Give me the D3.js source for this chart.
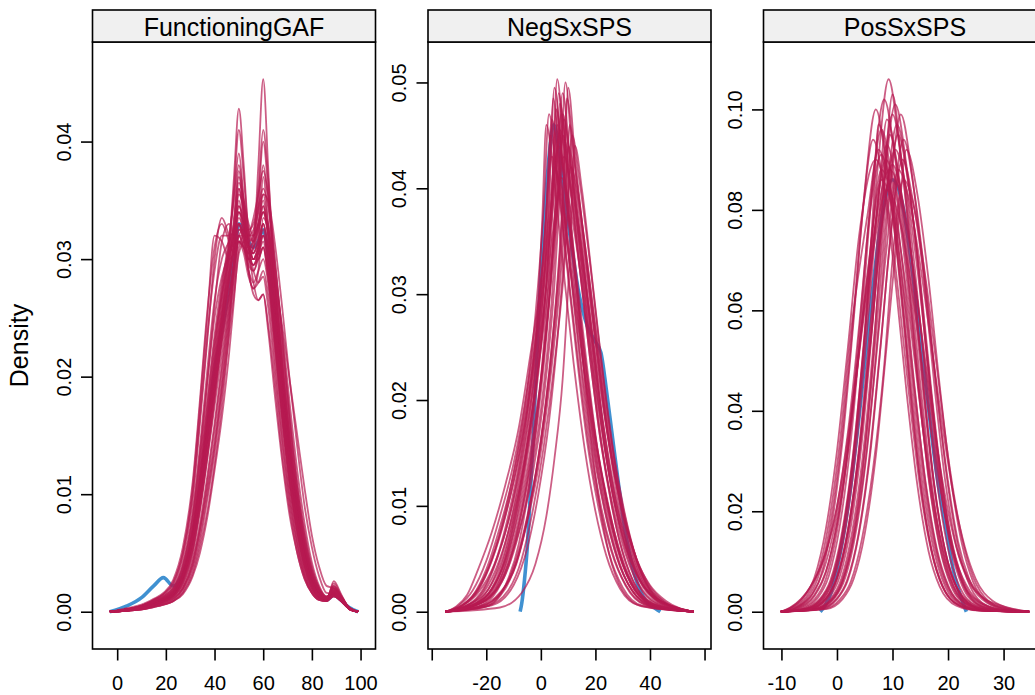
<!DOCTYPE html>
<html>
<head>
<meta charset="utf-8">
<script src="https://d3js.org/d3.v7.min.js"></script>
<style>
body { margin: 0; background: #fff; }
svg { display: block; }
text { font-family: "Liberation Sans", Arial, Helvetica, sans-serif; fill: #000; }
</style>
</head>
<body>
<svg width="1035" height="695"></svg>
<script>
// Densities are given in thousandths (33.5 means 0.0335)

// FunctioningGAF: all curves share one x grid
var gafGrid = [-3, 4, 10, 15, 19, 23, 27, 31, 34, 37, 40, 43, 46, 48, 50, 52, 54, 56, 58, 60, 62, 65, 68, 71, 74, 77, 80, 83, 86, 89, 92, 95, 99];
var gafObserved = [0, .5, 1.2, 2.2, 2.9, 2.2, 3.2, 6.5, 10.5, 15.5, 20.5, 24, 27.5, 30, 33, 32.5, 31.5, 31, 31.5, 32.5, 30.5, 24.5, 18.5, 13, 8.5, 5, 2.8, 1.5, 1.0, 1.4, 1.0, .4, 0];
var gafImputed = [
    [0, .2, .4, .8, 1.1, 1.6, 3.0, 6.2, 10, 14.5, 19, 23, 27, 30, 33, 31.5, 30, 31, 38, 45.3, 38, 26, 18, 12, 7.5, 4.2, 2.3, 1.3, 1.1, 1.8, 1.2, .4, 0],
    [0, .2, .5, .9, 1.2, 1.8, 3.4, 7, 11, 15.5, 20, 25, 31, 37, 42.8, 38, 32, 30, 31, 33, 31, 25, 18.5, 12.5, 8, 4.5, 2.5, 1.4, 1.2, 2.2, 1.3, .4, 0],
    [0, .2, .5, 1, 1.4, 2.2, 4.5, 9.5, 16, 23, 30, 33.5, 32, 31, 32, 31, 29, 28, 29, 30, 28, 22, 15.5, 10, 6, 3.3, 1.8, 1.1, 1.0, 1.6, 1.0, .3, 0],
    [0, .2, .4, .8, 1.2, 1.9, 3.8, 8, 13, 19.5, 26, 31.5, 33, 32, 33, 32, 30, 29.5, 30, 31, 29, 23, 16.5, 11, 6.8, 3.8, 2.0, 1.2, 1.0, 2.0, 1.2, .4, 0],
    [0, .1, .3, .6, .9, 1.4, 2.8, 6, 9.5, 14, 19, 24, 29, 32.5, 35.5, 34.5, 32.5, 31.5, 32.5, 34, 32, 26, 19.5, 13.5, 8.5, 5, 2.7, 1.5, 1.1, 1.6, 1.0, .3, 0],
    [0, .2, .4, .7, 1.0, 1.5, 3.0, 6.5, 11, 16, 21, 25.5, 30, 33, 36.5, 35, 33, 32, 33, 35.5, 33, 27, 20, 14, 9.5, 5.8, 3.2, 1.8, 1.2, 1.4, .9, .3, 0],
    [0, .1, .3, .5, .8, 1.2, 2.2, 4.5, 7.5, 11.5, 16, 21, 26, 29.5, 32.5, 32.5, 32, 32, 33, 34, 33, 29, 23.5, 17.5, 12, 7.5, 4.2, 2.2, 1.3, 1.5, 1.0, .3, 0],
    [0, .2, .4, .7, 1.0, 1.6, 3.3, 7, 12, 17.5, 23, 27, 30, 32, 34.5, 33, 31, 30, 31, 32.5, 30, 24, 17.5, 12, 7.5, 4.3, 2.4, 1.4, 1.0, 1.3, .9, .3, 0],
    [0, .1, .3, .6, .9, 1.4, 2.7, 5.8, 9.5, 14.5, 19.5, 24, 28, 31, 34, 33, 31, 31.5, 35, 40, 36, 27, 19.5, 13, 8.5, 4.8, 2.6, 1.4, 1.1, 1.9, 1.2, .4, 0],
    [0, .2, .4, .8, 1.1, 1.7, 3.2, 6.8, 11.5, 16.5, 21.5, 26.5, 31.5, 35.5, 39, 35, 31, 29.5, 30.5, 32, 30, 24.5, 18, 12.5, 8, 4.6, 2.5, 1.4, 1.1, 2.4, 1.4, .4, 0],
    [0, .2, .5, .9, 1.3, 2.0, 4.0, 8.5, 14, 20.5, 26.5, 30, 31.5, 32.5, 34, 33, 31, 30, 30.5, 31.5, 29, 23, 16.5, 11, 6.8, 3.8, 2.1, 1.2, 1.0, 1.7, 1.1, .3, 0],
    [0, .1, .2, .5, .8, 1.1, 2.0, 4.0, 7, 11, 15.5, 20.5, 25.5, 29, 32, 32.5, 32.5, 33, 34.5, 36, 34.5, 29.5, 23, 16.5, 11, 6.8, 3.8, 2.0, 1.2, 1.3, .9, .3, 0],
    [0, .2, .4, .7, 1.0, 1.5, 3.1, 6.6, 11, 16.5, 22, 27, 30.5, 32, 33, 31.5, 30.5, 31, 33, 35, 32, 25.5, 19, 13, 8.5, 5, 2.8, 1.5, 1.2, 2.0, 1.3, .4, 0],
    [0, .1, .3, .6, .9, 1.4, 2.9, 6.2, 10.5, 15.5, 20.5, 25, 29.5, 33.5, 37, 34, 29, 27.5, 29, 33.5, 32.5, 27.5, 20.5, 14, 9, 5.3, 2.9, 1.6, 1.2, 1.8, 1.1, .3, 0],
    [0, .2, .4, .7, 1.0, 1.6, 3.1, 6.3, 10, 15, 20, 25, 29, 31, 33, 32, 31, 30.5, 31.5, 33, 31, 26, 20, 14.5, 9.5, 5.5, 3.0, 1.7, 1.2, 1.5, 1.0, .3, 0],
    [0, .2, .5, 1.0, 1.5, 2.4, 5, 10.5, 17.5, 25, 32, 31.5, 30, 30.5, 32, 31, 29.5, 29, 30, 31, 28.5, 22.5, 16, 10.5, 6.5, 3.6, 2, 1.2, 1, 1.5, 1, .3, 0],
    [0, .1, .2, .4, .6, .9, 1.6, 3.2, 5.5, 8.5, 12.5, 17.5, 24, 30, 36, 34, 31, 29, 28, 28.5, 26, 20, 14, 9, 5.5, 3, 1.6, 1, .9, 1.4, .9, .3, 0],
    [0, .1, .2, .4, .6, .9, 1.5, 3, 5, 8, 12, 16.5, 22, 26.5, 31, 32, 32, 32.5, 34, 35.5, 35, 31, 25.5, 19.5, 14, 9, 5.5, 3, 1.6, 1.5, 1, .3, 0],
    [0, .2, .4, .8, 1.1, 1.7, 3.3, 7, 11.5, 17, 22.5, 27.5, 32, 35, 38, 35, 31, 28, 26.5, 27, 24, 18, 12.5, 8, 5, 2.8, 1.6, 1, .9, 1.3, .9, .3, 0],
    [0, .2, .4, .7, 1.0, 1.5, 2.8, 5.5, 9, 13.5, 18.5, 23, 27, 29.5, 31.5, 31, 30, 30, 31, 32, 31, 28, 24, 19.5, 15, 10.5, 6.5, 3.8, 2.2, 2.0, 1.3, .4, 0],
    [0, .3, .6, 1.1, 1.6, 2.7, 5.5, 11, 18, 25.5, 31, 33, 31.5, 30.5, 31.5, 30.5, 28.5, 27.5, 28, 29, 27, 21, 14.5, 9.5, 5.8, 3.2, 1.8, 1.1, .9, 1.5, 1, .3, 0],
    [0, .1, .3, .5, .7, 1.1, 2, 4.2, 7, 10.5, 14.5, 19.5, 25, 28.5, 31.5, 31, 30.5, 32, 36, 41, 37, 28, 20, 13.5, 8.5, 5, 2.7, 1.5, 1.1, 1.7, 1.1, .3, 0],
    [0, .2, .4, .7, 1.0, 1.5, 3, 6.3, 10.5, 15.5, 21, 26, 31, 36, 41, 37, 32, 30, 30, 31, 28.5, 22.5, 16.5, 11, 7, 4, 2.2, 1.3, 1.1, 2.2, 1.3, .4, 0],
    [0, .1, .3, .6, .9, 1.3, 2.4, 5, 8.5, 13, 18, 23.5, 28.5, 31.5, 34.5, 33.5, 32, 31.5, 33, 34.5, 32.5, 27, 21, 15, 10, 6, 3.3, 1.8, 1.2, 1.6, 1, .3, 0],
    [0, .2, .5, 1, 1.5, 2.5, 5, 10, 16.5, 23.5, 29, 32, 32, 32.5, 34, 32, 29, 27, 26.5, 27, 24.5, 19, 13, 8.5, 5, 2.8, 1.6, 1, .9, 2.6, 1.5, .4, 0],
    [0, .1, .2, .4, .6, .9, 1.7, 3.5, 6, 9.5, 13.5, 18.5, 23.5, 27, 30.5, 31.5, 32, 33.5, 35.5, 37.5, 35.5, 29.5, 22.5, 16, 10.5, 6.5, 3.6, 2, 1.3, 1.5, 1, .3, 0],
    [0, .2, .4, .7, 1.0, 1.5, 3, 6, 10, 15, 20, 24.5, 28.5, 31, 35, 32.5, 30, 29, 31, 37, 33, 25, 18, 12, 7.8, 4.5, 2.5, 1.4, 1.1, 1.9, 1.2, .4, 0],
    [0, .1, .3, .6, .9, 1.3, 2.6, 5.3, 9, 13.5, 18.5, 23.5, 28, 31.5, 36, 33.5, 31, 30.5, 32, 34.5, 32, 26.5, 20.5, 14.5, 9.5, 5.5, 3, 1.7, 1.2, 1.6, 1, .3, 0],
    [0, .2, .5, .9, 1.3, 2, 3.9, 8, 13.5, 19.5, 25, 28.5, 30.5, 31.5, 33.5, 32.5, 31, 30.5, 31.5, 33, 30.5, 24.5, 18, 12.5, 8, 4.6, 2.5, 1.4, 1.1, 1.7, 1.1, .3, 0],
    [0, .1, .2, .5, .7, 1, 1.9, 3.8, 6.5, 10, 14, 19, 24.5, 28, 32, 32, 31, 31, 32.5, 34, 32.5, 28, 22, 16, 10.5, 6.3, 3.5, 1.9, 1.2, 1.4, .9, .3, 0],
    [0, .2, .4, .8, 1.1, 1.7, 3.5, 7.5, 12.5, 18, 23.5, 28, 31, 33, 37.5, 34, 30.5, 29.5, 30.5, 32, 29.5, 23.5, 17, 11.5, 7.2, 4.1, 2.3, 1.3, 1.1, 2.1, 1.3, .4, 0],
    [0, .1, .3, .6, .9, 1.3, 2.5, 5.2, 8.8, 13, 17.5, 22, 26.5, 29.5, 32.5, 32, 31.5, 32, 34, 38, 35, 28, 21, 14.5, 9.5, 5.6, 3.1, 1.7, 1.2, 1.8, 1.1, .3, 0]
];

// NegSxSPS: [value, density] points per curve
var negObserved = [[-7.6, 0], [-7, .8], [-6, 3], [-5, 6], [-4, 10.5], [-3, 15.5], [-2, 21], [-1, 27], [0, 32], [1.5, 38], [3, 43], [4.7, 46], [6.5, 44], [8.5, 39.5], [11, 35], [14, 30], [17, 27], [20, 25.5], [22, 24.5], [24, 21], [26, 17], [28.5, 12], [31, 7.5], [34, 3.8], [38, 1.2], [42, .3], [43.8, 0]];
var negImputed = [
    [[-35, 0], [-28, .4], [-22, 1.2], [-17, 3.3], [-12, 7.5], [-8, 12.5], [-4, 19], [0, 29.5], [2, 37.5], [4, 46.5], [7, 41], [11, 32], [15, 23], [19, 15.5], [23, 10], [28, 5], [34, 1.8], [41, .5], [56, 0]],
    [[-35, 0], [-24, .8], [-16, 3], [-11, 7], [-7, 12], [-3, 19], [1, 30], [3, 38.5], [5, 49.5], [8, 42], [12, 33.5], [16, 24.5], [20, 16.5], [24, 11], [29, 5.5], [35, 2], [42, .6], [56, 0]],
    [[-35, 0], [-22, .8], [-15, 3], [-10, 7.5], [-6, 13], [-2, 20], [2, 31], [4, 39], [6, 50.3], [9, 41], [13, 31], [17, 21.5], [21, 14], [25, 9], [30, 4.5], [36, 1.5], [43, .4], [56, 0]],
    [[-35, 0], [-27, .4], [-20, 1.2], [-14, 3.2], [-9, 7.2], [-5, 12], [-1, 18.5], [3, 29], [5, 37], [7, 48], [10, 41.5], [14, 33], [18, 24], [22, 16], [26, 10.5], [31, 5.5], [37, 2], [44, .6], [56, 0]],
    [[-35, 0], [-26, .5], [-19, 1.3], [-13, 3.5], [-8, 7.5], [-4, 12.5], [0, 19], [4, 29.5], [6, 37.5], [8, 47], [11, 42], [15, 34.5], [19, 26], [23, 17], [27, 11], [32, 6], [38, 2.3], [46, .7], [56, 0]],
    [[-35, 0], [-24, .6], [-17, 1.8], [-12, 4.5], [-7, 8.5], [-3, 13], [1, 20], [5, 31], [7, 39.5], [9, 50], [12, 41], [16, 32], [20, 22.5], [24, 14.5], [28, 9], [33, 4.3], [39, 1.5], [47, .4], [56, 0]],
    [[-35, 0], [-23, .5], [-15, 1.8], [-9, 4.5], [-5, 8.5], [-1, 13.5], [3, 21], [7, 31], [9, 38], [10.5, 46], [13, 41], [17, 33], [21, 24.5], [25, 16.5], [29, 10.5], [34, 5.5], [40, 2], [48, .5], [56, 0]],
    [[-35, 0], [-20, .5], [-12, 2], [-7, 5], [-3, 9.5], [1, 15.5], [5, 23.5], [9, 34], [11.5, 45], [14, 41], [18, 33], [22, 24], [26, 16], [30, 10], [35, 5], [41, 1.8], [49, .4], [56, 0]],
    [[-35, 0], [-30, .4], [-25, 1.5], [-20, 4], [-15, 8], [-10, 13], [-6, 18.5], [-2, 25.5], [2, 34], [4.5, 40], [6.5, 44], [9.5, 39.5], [13, 32], [17, 23], [21, 15], [25, 9.5], [30, 4.5], [36, 1.5], [44, .4], [56, 0]],
    [[-35, 0], [-28, .5], [-21, 1.8], [-15, 5], [-10, 9.5], [-6, 14.5], [-2, 21], [2, 29], [5.5, 37], [8.5, 43], [11.5, 39.5], [15, 33], [19, 25], [23, 17.5], [27, 11.5], [31, 7], [36, 3.2], [42, 1.2], [49, .4], [56, 0]],
    [[-35, 0], [-26, .7], [-19, 2.2], [-14, 5], [-10, 9], [-6, 14], [-2, 21], [2, 31], [4, 39], [5.5, 47.5], [8.5, 41], [12, 32], [16, 22.5], [20, 14.5], [24, 9], [29, 4.3], [35, 1.5], [42, .4], [56, 0]],
    [[-35, 0], [-22, .5], [-14, 2], [-9, 5], [-5, 9], [-1, 14.5], [3, 22.5], [6, 31], [8, 39], [9.5, 48.5], [12.5, 42], [16.5, 33.5], [20.5, 25], [24.5, 17], [28.5, 11], [33, 6], [39, 2.2], [47, .6], [56, 0]],
    [[-35, 0], [-29, .5], [-23, 1.8], [-17, 4.5], [-12, 8.5], [-7, 14.5], [-3, 21], [1, 28.5], [4.5, 36], [7.5, 41], [10.5, 38.5], [14.5, 32], [18.5, 24], [22.5, 17], [26.5, 11], [31, 6.3], [37, 2.7], [44, 1], [51, .3], [56, 0]],
    [[-35, 0], [-27, .6], [-21, 2], [-16, 5], [-11, 9.5], [-7, 15], [-3, 22.5], [0, 31], [2, 38], [3.5, 45], [6.5, 40], [10, 32], [14, 23], [18, 15], [22, 9.5], [27, 4.8], [33, 1.8], [40, .5], [56, 0]],
    [[-35, 0], [-31, .5], [-27, 1.6], [-23, 4], [-18, 7.5], [-13, 12], [-8, 17.5], [-4, 24], [0, 31], [3, 37.5], [5, 42], [8, 38.5], [12, 31], [16, 22.5], [20, 15], [24, 9.5], [29, 4.5], [35, 1.5], [43, .4], [56, 0]],
    [[-35, 0], [-15, .4], [-7, 1.8], [-2, 4.5], [2, 9], [5, 14.5], [8, 22], [10.5, 33], [12.5, 44], [15, 40], [19, 31], [23, 22], [27, 14.5], [31, 9], [35, 5], [40, 2], [47, .6], [56, 0]],
    [[-35, 0], [-25, .5], [-18, 1.8], [-12, 5], [-7, 10], [-3, 16], [1, 24], [4, 32.5], [6, 39], [8, 45], [11, 41], [15, 33.5], [19, 26], [23, 19], [27, 13], [31, 8.5], [35, 5], [40, 2.5], [46, 1], [56, 0]],
    [[-35, 0], [-20, .5], [-13, 2.5], [-8, 6.5], [-4, 12.5], [0, 22], [3, 32], [5, 41], [6.5, 49], [9, 43], [12, 34], [15, 25], [18, 17], [21, 11], [25, 5.5], [30, 2], [37, .5], [56, 0]],
    [[-35, 0], [-29, .6], [-23, 2.2], [-18, 5], [-13, 9.5], [-9, 14.5], [-5, 21], [-2, 28], [1, 38], [3, 47], [6, 41], [9, 34], [13, 24.5], [17, 16], [21, 10], [25, 5.5], [30, 2.3], [37, .6], [56, 0]],
    [[-35, 0], [-22, .5], [-14, 2], [-8, 5.5], [-4, 10], [0, 16], [4, 25], [7, 34], [8.5, 41], [10, 49.5], [12.5, 43], [16, 34.5], [20, 25.5], [24, 17.5], [28, 11], [32, 6.5], [37, 3], [44, .8], [56, 0]],
    [[-35, 0], [-30, .4], [-24, 1.7], [-19, 4.2], [-14, 8.2], [-9, 13.5], [-5, 19.5], [-1, 27], [3, 36], [5, 41.5], [7, 45.5], [10, 41.5], [14, 34], [18, 26], [22, 18], [26, 11.5], [30, 7], [35, 3.5], [41, 1.4], [48, .5], [56, 0]],
    [[-35, 0], [-25, .6], [-18, 2.2], [-13, 5.5], [-9, 10], [-5, 16], [-2, 22.5], [1, 31], [3, 40], [4.5, 48.5], [7, 42], [10.5, 33], [14, 24.5], [18, 16], [22, 10], [26, 5.8], [31, 2.5], [38, .7], [56, 0]],
    [[-35, 0], [-18, .6], [-10, 2.5], [-5, 6], [-1, 11], [3, 18], [6, 25.5], [9, 35], [11, 42], [14, 38.5], [18, 31], [22, 23], [26, 15.5], [30, 9.5], [34, 5.8], [39, 2.8], [45, 1], [51, .3], [56, 0]],
    [[-35, 0], [-23, .5], [-16, 2], [-11, 5], [-7, 9.5], [-3, 15.5], [1, 24], [4, 33], [6, 41], [8, 49], [10.5, 43.5], [14, 35], [17.5, 26.5], [21, 18.5], [25, 11.5], [29, 6.5], [34, 2.8], [41, .8], [56, 0]],
    [[-35, 0], [-27, .6], [-21, 2.2], [-16, 5.2], [-12, 9], [-8, 14], [-4, 21], [-1, 29], [0.5, 37], [2, 46], [5, 40.5], [8, 33], [12, 23.5], [16, 15.5], [20, 9.5], [24, 5.3], [29, 2.2], [36, .6], [56, 0]],
    [[-35, 0], [-29, .6], [-23, 2], [-18, 4.8], [-13, 9], [-9, 13.5], [-5, 19], [-1, 26], [3, 35], [5.5, 41], [7.5, 47], [10.5, 41], [14, 33], [18, 24], [22, 16], [26, 10], [31, 4.8], [37, 1.6], [45, .4], [56, 0]],
    [[-35, 0], [-21, .5], [-13, 2.2], [-8, 5.5], [-4, 10], [0, 16], [3.5, 23], [6.5, 31], [8.5, 38], [10, 44], [13, 39.5], [17, 31.5], [21, 23.5], [25, 16], [29, 10.5], [33, 6.5], [38, 3], [45, 1], [56, 0]],
    [[-35, 0], [-25, .6], [-18, 2], [-13, 5], [-9, 9.5], [-5, 15.5], [-1, 23], [2, 31], [4, 38.5], [6, 46], [8.5, 41], [12, 33], [16, 24], [20, 16.5], [24, 10.5], [28, 6], [33, 2.7], [40, .8], [56, 0]],
    [[-35, 0], [-26, .5], [-19, 1.8], [-13, 4.8], [-8, 9.5], [-4, 15], [0, 22], [3.5, 30.5], [6, 38], [8.5, 46.5], [11, 42], [15, 34], [19, 25.5], [23, 17.5], [27, 11], [31, 6.5], [36, 3], [43, .9], [56, 0]],
    [[-35, 0], [-30, .6], [-25, 2], [-20, 4.8], [-15, 9], [-10, 14], [-6, 19.5], [-2, 26.5], [1, 34], [4, 43], [7, 39.5], [11, 32], [15, 24.5], [19, 17.5], [23, 12], [27, 7.5], [32, 3.5], [38, 1.2], [46, .3], [56, 0]]
];

// PosSxSPS: [value, density] points per curve
var posObserved = [[-3, 0], [-2, 1.5], [-1, 4], [0, 8.5], [2, 21], [4, 39], [6, 60], [8, 78], [10, 86], [12, 80], [14, 64], [16, 45], [18, 27], [19.7, 16], [21, 8], [22.3, 3], [23.3, 0]];
var posImputed = [
    [[-10.1, 0], [-5.7, .5], [-2.7, 2.8], [-0.7, 7], [1.3, 17.5], [3.3, 35], [5.3, 60], [7.3, 88], [9.3, 106], [11.3, 92], [13.3, 72], [15.3, 48], [17.3, 27], [19.3, 13], [21.3, 5.5], [24.3, 1.3], [28.3, .2], [34.6, 0]],
    [[-10.1, 0], [-8, .5], [-5, 2.6], [-3, 6.8], [-1, 17], [1, 34], [3, 58], [5, 84], [7, 100], [9, 88], [11, 69], [13, 46], [15, 26], [17, 12.5], [19, 5.2], [22, 1.2], [26, .2], [34.6, 0]],
    [[-10.1, 0], [-7, .5], [-4, 2.5], [-2, 6.5], [0, 16], [2, 32.5], [4, 55.5], [6, 81], [8, 96], [10, 85], [12, 67], [14, 44.5], [16, 25], [18, 12], [20, 5], [23, 1.2], [27, .2], [34.6, 0]],
    [[-10.1, 0], [-6, .5], [-3, 2.4], [-1, 6.3], [1, 15.5], [3, 31], [5, 54], [7, 78], [9, 93], [11, 82], [13, 64.5], [15, 43], [17, 24.5], [19, 11.8], [21, 5], [24, 1.2], [28, .2], [34.6, 0]],
    [[-10.1, 0], [-5, .5], [-2, 2.6], [0, 6.8], [2, 16.5], [4, 33], [6, 57], [8, 83], [10, 99], [12, 87], [14, 68.5], [16, 46], [18, 26], [20, 12.5], [22, 5.2], [25, 1.3], [29, .2], [34.6, 0]],
    [[-10.1, 0], [-4, .5], [-1, 2.5], [1, 6.5], [3, 16], [5, 32], [7, 55], [9, 80], [11, 95], [13, 84], [15, 66], [17, 44], [19, 25], [21, 12], [23, 5], [26, 1.2], [30, .2], [34.6, 0]],
    [[-10.1, 0], [-3.2, .5], [-0.2, 2.4], [1.8, 6.2], [3.8, 15], [5.8, 30.5], [7.8, 52.5], [9.8, 76], [11.8, 90], [13.8, 81], [15.8, 65.5], [17.8, 45.5], [19.8, 27.5], [21.8, 14], [23.8, 6.5], [27, 1.8], [31, .3], [34.6, 0]],
    [[-10.1, 0], [-6.5, .5], [-3.5, 2.7], [-1.5, 7], [0.5, 17], [2.5, 34], [4.5, 59], [6.5, 86], [8.5, 102], [10.5, 90], [12.5, 70.5], [14.5, 47], [16.5, 26.5], [18.5, 12.8], [20.5, 5.3], [23.5, 1.3], [27.5, .2], [34.6, 0]],
    [[-10.1, 0], [-4.5, .5], [-1.5, 2.7], [0.5, 7], [2.5, 17], [4.5, 34], [6.5, 58.5], [8.5, 85], [10.5, 101], [12.5, 89], [14.5, 70], [16.5, 46.5], [18.5, 26.5], [20.5, 12.7], [22.5, 5.3], [25.5, 1.3], [29.5, .2], [34.6, 0]],
    [[-10.1, 0], [-8.5, .6], [-5.5, 3], [-3.5, 7.5], [-1.5, 17.5], [0.5, 33.5], [2.5, 55.5], [5.5, 79], [7.5, 92], [9.5, 83], [11.5, 65], [13.5, 43.5], [15.5, 24.5], [17.5, 12], [19.5, 5], [22.5, 1.2], [26.5, .2], [34.6, 0]],
    [[-10.1, 0], [-7, .8], [-4, 3.5], [-2, 8], [0, 17.5], [2, 32], [4, 52], [6.5, 74], [9.5, 88], [12, 80], [14, 66], [16, 48], [18, 30], [20, 16], [22, 7.5], [25, 2.2], [29, .4], [34.6, 0]],
    [[-10.1, 0], [-4.2, .5], [-1.2, 2.5], [0.8, 6.6], [2.8, 16.3], [4.8, 32.5], [6.8, 56], [8.8, 81.5], [10.8, 97], [12.8, 86], [14.8, 67.5], [16.8, 45], [18.8, 25.5], [20.8, 12.3], [22.8, 5.1], [25.8, 1.2], [29.8, .2], [34.6, 0]],
    [[-10.1, 0], [-6.2, .5], [-3.2, 2.4], [-1.2, 6.2], [0.8, 15.2], [2.8, 30.5], [4.8, 52.5], [6.8, 76], [8.8, 90], [10.8, 82], [12.8, 64], [14.8, 43], [16.8, 24.5], [18.8, 11.8], [20.8, 5], [23.8, 1.2], [27.8, .2], [34.6, 0]],
    [[-10.1, 0], [-3, .5], [0, 2.5], [2, 6.4], [4, 15.8], [6, 31.5], [8, 54.5], [10, 79], [12, 94], [14, 83], [16, 65], [18, 43.5], [20, 25], [22, 12], [24, 5], [27, 1.2], [31, .2], [34.6, 0]],
    [[-10.1, 0], [-5, .5], [-2, 2.5], [0, 6.5], [2, 15.5], [4, 31], [6, 53], [8, 76], [10, 89], [12, 81], [14, 66], [16, 49], [18, 33], [20, 20], [22, 11], [24, 6], [27, 2.2], [31, .5], [34.6, 0]],
    [[-10.1, 0], [-8, 1], [-6, 3], [-4, 6.5], [-2, 12], [0, 21], [2, 36], [4, 57], [6, 80], [8, 91], [10, 82], [12, 63], [14, 41.5], [16, 23], [18, 11], [20, 4.5], [23, 1.1], [27, .2], [34.6, 0]],
    [[-10.1, 0], [-6, .4], [-3, 2], [-1, 5.5], [1, 14], [3, 30], [5, 55], [6.5, 80], [7.5, 97], [9.5, 86], [11.5, 65], [13.5, 41], [15.5, 22], [17.5, 10], [19.5, 4], [22.5, 1], [26.5, .2], [34.6, 0]],
    [[-10.1, 0], [-4, .5], [-1, 2.3], [1, 6], [3, 14.5], [5, 29], [7, 50], [9, 73], [11, 88], [13, 82], [15, 69], [17, 53], [19, 37], [21, 23], [23, 13], [25, 6.5], [28, 2.2], [32, .5], [34.6, 0]],
    [[-10.1, 0], [-8.5, .8], [-6.5, 2.5], [-4.5, 5.5], [-2.5, 10], [-0.5, 18], [1.5, 31], [3.5, 48], [5.5, 67], [8, 86], [10, 80], [12, 64], [14, 44], [16, 25.5], [18, 12.5], [20, 5.3], [23, 1.3], [27, .2], [34.6, 0]],
    [[-10.1, 0], [-2, .5], [1, 2.5], [3, 6.5], [5, 15.5], [7, 31], [9, 53.5], [11, 77], [12.5, 92], [14.5, 83], [16.5, 66], [18.5, 45], [20.5, 26.5], [22.5, 13.5], [24.5, 6], [27.5, 1.6], [31.5, .3], [34.6, 0]],
    [[-10.1, 0], [-8, .6], [-5.5, 2.5], [-3.5, 6.5], [-1.5, 15.5], [0.5, 31], [2.5, 53], [4.5, 78], [6.5, 94], [8.5, 84], [10.5, 66], [12.5, 44], [14.5, 25], [16.5, 12], [18.5, 5], [21.5, 1.2], [25.5, .2], [34.6, 0]],
    [[-10.1, 0], [-4, .4], [-1, 2.2], [1, 6], [3, 15], [5, 32], [7, 58], [8.5, 84], [10, 103], [11.5, 91], [13.5, 70], [15.5, 46], [17.5, 25.5], [19.5, 12], [21.5, 4.8], [24.5, 1.1], [28.5, .2], [34.6, 0]],
    [[-10.1, 0], [-7.5, .8], [-4.5, 3.5], [-2.5, 8], [-0.5, 16.5], [1.5, 29.5], [3.5, 47], [6, 68], [9, 84], [11.5, 77], [13.5, 64], [15.5, 48], [17.5, 32], [19.5, 19], [21.5, 10], [24, 4], [27.5, 1], [31, .2], [34.6, 0]],
    [[-10.1, 0], [-3.5, .5], [-0.5, 2.6], [1.5, 6.8], [3.5, 16.5], [5.5, 33], [7.5, 57], [9.5, 83], [11.5, 99], [13.5, 87], [15.5, 68], [17.5, 45.5], [19.5, 26], [21.5, 13], [23.5, 6.5], [26, 3], [29, 1.4], [32, .4], [34.6, 0]],
    [[-10.1, 0], [-5.5, .5], [-2.5, 2.6], [-0.5, 6.7], [1.5, 16.3], [3.5, 33], [5.5, 57], [7.5, 83], [9, 98], [11, 87], [13, 68], [15, 45.5], [17, 26], [19, 12.5], [21, 5.2], [24, 1.3], [28, .2], [34.6, 0]],
    [[-10.1, 0], [-5, .6], [-2, 2.8], [0, 7], [2, 16.5], [4, 32], [6, 53.5], [8, 76], [10.5, 92], [12.5, 84], [14.5, 68], [16.5, 48], [18.5, 29], [20.5, 15], [22.5, 6.8], [25.5, 2], [29.5, .4], [34.6, 0]],
    [[-10.1, 0], [-8.5, .7], [-6, 2.8], [-4, 7], [-2, 16.5], [0, 32], [2, 53], [4, 75], [7, 90], [9, 82], [11, 64], [13, 43], [15, 24.5], [17, 12], [19, 5], [22, 1.3], [26, .2], [34.6, 0]],
    [[-10.1, 0], [-2.5, .5], [0.5, 2.4], [2.5, 6], [4.5, 14.5], [6.5, 28.5], [8.5, 49], [10, 70], [12, 86], [14, 80], [16, 66], [18, 48.5], [20, 31], [22, 17.5], [24, 8.5], [26.5, 3], [30, .7], [34.6, 0]],
    [[-10.1, 0], [-5, .5], [-2, 2.5], [0, 6.5], [2, 16], [4, 32], [6, 55], [8, 80], [9.5, 95], [11.5, 84], [13.5, 66], [15.5, 44], [17.5, 25], [19.5, 12], [21.5, 5], [24.5, 1.2], [28.5, .2], [34.6, 0]],
    [[-10.1, 0], [-7, .7], [-4, 3.2], [-2, 7.8], [0, 17.5], [2, 32.5], [4, 52], [6, 72], [8, 88], [10, 82], [12, 68], [14, 50], [16, 32], [18, 18], [20, 9], [22.5, 3.3], [26, .8], [30, .1], [34.6, 0]]
];

// Axis ticks and labels
var gafTicksY = [0, 0.01, 0.02, 0.03, 0.04];
var negTicksY = [0, 0.01, 0.02, 0.03, 0.04, 0.05];
var posTicksY = [0, 0.02, 0.04, 0.06, 0.08, 0.10];
var gafTicksX = [0, 20, 40, 60, 80, 100];
var negTicksX = [-40, -20, 0, 20, 40, 60];
var posTicksX = [-10, 0, 10, 20, 30];
var gafLabelsX = ['0', '20', '40', '60', '80', '100'];
var negLabelsX = ['', '-20', '0', '20', '40', ''];
var posLabelsX = ['-10', '0', '10', '20', '30'];

var svg = d3.select('svg');

// Layout
var panelLeft = [92.5, 428, 763.5];
var panelW = 283;
var stripTop = 10, plotTop = 42, plotBottom = 649;
var tickLen = 11.5;
var fontFamily = '"Liberation Sans", Arial, Helvetica, sans-serif';

var obsColor = '#006CC2', impColor = '#B61A51';

function onGafGrid(values) {
    return values.map(function(d, i) { return [gafGrid[i], d]; });
}

var panels = [
    {name: 'FunctioningGAF', observed: onGafGrid(gafObserved), imputed: gafImputed.map(onGafGrid),
        ticksY: gafTicksY, ticksX: gafTicksX, labelsX: gafLabelsX},
    {name: 'NegSxSPS', observed: negObserved, imputed: negImputed,
        ticksY: negTicksY, ticksX: negTicksX, labelsX: negLabelsX},
    {name: 'PosSxSPS', observed: posObserved, imputed: posImputed,
        ticksY: posTicksY, ticksX: posTicksX, labelsX: posLabelsX}
];

panels.forEach(function(p, i) {
    var allPts = d3.merge(p.imputed.concat([p.observed]));
    var xExt = d3.extent(allPts, function(d) { return d[0]; });
    var yMax = d3.max(allPts, function(d) { return d[1]; }) / 1000;
    var xPad = 0.07 * (xExt[1] - xExt[0]);

    var xScale = d3.scaleLinear()
        .domain([xExt[0] - xPad, xExt[1] + xPad])
        .range([0, panelW]);
    var yScale = d3.scaleLinear()
        .domain([-0.07 * yMax, 1.07 * yMax])
        .range([plotBottom, plotTop]);

    var line = d3.line()
        .x(function(d) { return xScale(d[0]); })
        .y(function(d) { return yScale(d[1] / 1000); })
        .curve(d3.curveMonotoneX);

    var g = svg.append('g')
        .attr('transform', 'translate(' + [panelLeft[i], 0] + ')');

    g.append('clipPath')
        .attr('id', 'clip-' + i)
        .append('rect')
        .attr('x', 0).attr('y', plotTop)
        .attr('width', panelW).attr('height', plotBottom - plotTop);

    var lines = g.append('g').attr('clip-path', 'url(#clip-' + i + ')');

    // observed first, imputed drawn over it
    lines.append('path')
        .datum(p.observed)
        .attr('d', line)
        .attr('fill', 'none')
        .attr('stroke', obsColor)
        .attr('stroke-opacity', 0.75)
        .attr('stroke-width', 3.6)
        .attr('stroke-linejoin', 'round');

    lines.selectAll('.imp')
        .data(p.imputed)
        .enter().append('path')
        .attr('class', 'imp')
        .attr('d', line)
        .attr('fill', 'none')
        .attr('stroke', impColor)
        .attr('stroke-opacity', 0.7)
        .attr('stroke-width', 1.8)
        .attr('stroke-linejoin', 'round');

    // panel box
    g.append('rect')
        .attr('x', 0).attr('y', plotTop)
        .attr('width', panelW).attr('height', plotBottom - plotTop)
        .attr('fill', 'none')
        .attr('stroke', '#000')
        .attr('stroke-width', 1.6);

    // strip
    g.append('rect')
        .attr('x', 0).attr('y', stripTop)
        .attr('width', panelW).attr('height', plotTop - stripTop)
        .attr('fill', '#f0f0f0')
        .attr('stroke', '#000')
        .attr('stroke-width', 1.6);

    g.append('text')
        .attr('x', panelW / 2)
        .attr('y', 36)
        .attr('text-anchor', 'middle')
        .style('font-size', '25px')
        .text(p.name);

    // y axis with rotated labels
    var yAxis = g.append('g')
        .call(d3.axisLeft(yScale)
            .tickValues(p.ticksY)
            .tickFormat(d3.format('.2f'))
            .tickSize(tickLen)
            .tickSizeOuter(0));
    yAxis.select('.domain').remove();
    yAxis.attr('font-family', fontFamily).attr('font-size', 20);
    yAxis.selectAll('line').attr('stroke', '#000').attr('stroke-width', 1.6);
    yAxis.selectAll('text')
        .attr('x', null)
        .attr('dy', null)
        .attr('text-anchor', 'middle')
        .attr('fill', '#000')
        .attr('transform', 'translate(-22,0) rotate(-90)');

    // x axis
    var xAxis = g.append('g')
        .attr('transform', 'translate(0,' + plotBottom + ')')
        .call(d3.axisBottom(xScale)
            .tickValues(p.ticksX)
            .tickFormat(function(d, j) { return p.labelsX[j]; })
            .tickSize(tickLen)
            .tickSizeOuter(0));
    xAxis.select('.domain').remove();
    xAxis.attr('font-family', fontFamily).attr('font-size', 20);
    xAxis.selectAll('line').attr('stroke', '#000').attr('stroke-width', 1.6);
    xAxis.selectAll('text')
        .attr('y', 41)
        .attr('dy', null)
        .attr('fill', '#000');
});

svg.append('text')
    .attr('transform', 'translate(28,' + (plotTop + plotBottom) / 2 + ') rotate(-90)')
    .attr('text-anchor', 'middle')
    .style('font-size', '25px')
    .text('Density');
</script>
</body>
</html>
